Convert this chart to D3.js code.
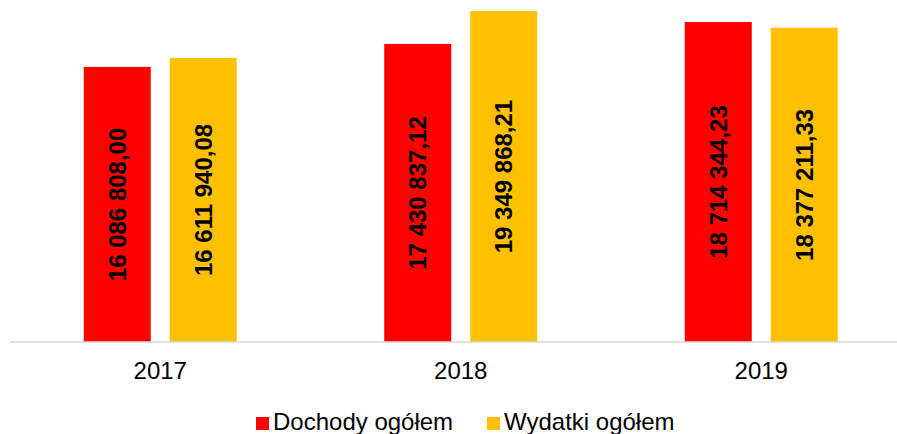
<!DOCTYPE html>
<html>
<head>
<meta charset="utf-8">
<script src="https://cdn.jsdelivr.net/npm/d3@7/dist/d3.min.js"></script>
<style>
  html, body { margin: 0; padding: 0; background: #fff; }
  svg { display: block; font-family: Arial, "Liberation Sans", sans-serif; }
</style>
</head>
<body>
<svg id="chart" width="897" height="434"></svg>
<script>
const categories = ["2017", "2018", "2019"];
const seriesNames = ["Dochody ogółem", "Wydatki ogółem"];
const dochody = [16086808.00, 17430837.12, 18714344.23];
const wydatki = [16611940.08, 19349868.21, 18377211.33];
const seriesColors = ["#FF0000", "#FFC000"];

const seriesValues = [dochody, wydatki];
const svg = d3.select("#chart");

const y = d3.scaleLinear().domain([0, 20000000]).range([342, 0]);
const x0 = d3.scaleBand().domain(categories).range([10, 911.5]).paddingInner(0).paddingOuter(0);
const x1 = d3.scaleBand().domain(seriesNames).range([0, 153]).paddingInner(19 / 86).paddingOuter(0);

const locale = d3.formatLocale({ decimal: ",", thousands: " ", grouping: [3], currency: ["", ""] });
const fmt = locale.format(",.2f");

const rows = [];
categories.forEach((c, i) => {
  seriesNames.forEach((s, j) => {
    rows.push({ cat: c, series: s, value: seriesValues[j][i], color: seriesColors[j] });
  });
});

const groupOffset = c => x0(c) + x0.bandwidth() / 2 - 76.5;

svg.append("g").selectAll("rect")
  .data(rows).join("rect")
  .attr("x", d => groupOffset(d.cat) + x1(d.series))
  .attr("y", d => y(d.value))
  .attr("width", x1.bandwidth())
  .attr("height", d => y(0) - y(d.value))
  .attr("fill", d => d.color);

// axis line
const xAxis = d3.axisBottom(x0).tickSize(0).tickPadding(20);
const ax = svg.append("g").attr("transform", `translate(0,${y(0)})`).call(xAxis);
ax.select(".domain").attr("stroke", "#D9D9D9").attr("stroke-width", 1.5).attr("d", "M10,0H897");
ax.selectAll(".tick text")
  .attr("font-size", 24)
  .attr("font-family", "Arial, 'Liberation Sans', sans-serif")
  .attr("fill", "#000")
  .attr("dy", "0.71em");

// data labels
svg.append("g").selectAll("text")
  .data(rows).join("text")
  .attr("transform", d => {
    const cx = groupOffset(d.cat) + x1(d.series) + x1.bandwidth() / 2;
    const cy = (y(d.value) + y(0)) / 2;
    return `translate(${cx},${cy}) rotate(-90)`;
  })
  .attr("text-anchor", "middle")
  .attr("dy", "0.35em")
  .attr("font-size", 24)
  .attr("font-weight", "bold")
  .attr("fill", "#000")
  .text(d => fmt(d.value));

// legend
const legendItems = [
  { name: seriesNames[0], color: seriesColors[0], x: 256 },
  { name: seriesNames[1], color: seriesColors[1], x: 487 }
];
const lg = svg.append("g");
legendItems.forEach(it => {
  lg.append("rect").attr("x", it.x).attr("y", 417).attr("width", 13).attr("height", 13).attr("fill", it.color);
  lg.append("text").attr("x", it.x + 17).attr("y", 430).attr("font-size", 24).attr("fill", "#000").text(it.name);
});
</script>
</body>
</html>
